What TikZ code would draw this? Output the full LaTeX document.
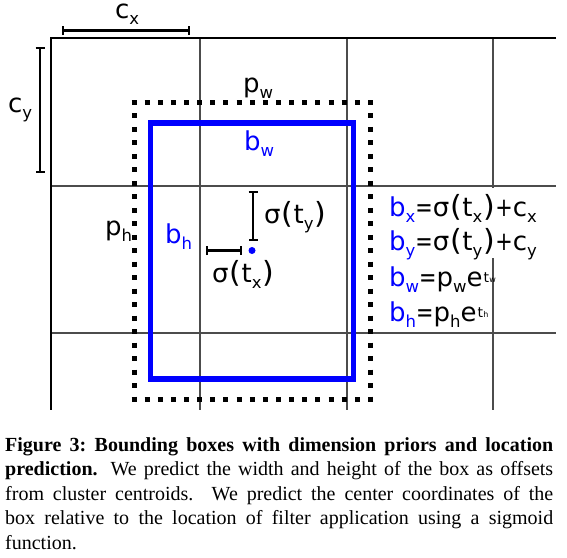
\documentclass[tikz,border=0pt]{standalone}
\usepackage{fontspec}
\usepackage{graphicx}
\setmainfont{Liberation Serif}
\newfontfamily\labfont{DejaVu Sans}
\usetikzlibrary{arrows.meta}
\newcommand\sbs[1]{\raisebox{-6.5pt}{\fontsize{16.5}{16.5}\selectfont #1}}
\newcommand\supt[1]{\kern1pt\raisebox{4pt}{\fontsize{14}{14}\selectfont t\kern0.3pt{\fontsize{8}{8}\selectfont #1}}}
\newcommand\lpar{\kern0.8pt\scalebox{1.15}[1.12]{(}\kern0.6pt}
\newcommand\rpar{\kern0.6pt\scalebox{1.15}[1.12]{)}\kern0.8pt}
\newcommand\eqs{\scalebox{0.8}[1]{=}}
\newcommand\pls{\scalebox{0.8}[1]{+}}
\tikzset{
  gridout/.style={draw=black, line width=1.2pt},
  gridin/.style={draw=black!70, line width=1.4pt},
  lab/.style={font=\labfont\fontsize{26}{26}\selectfont, inner sep=0pt, anchor=base west},
  eqrow/.style={lab, fill=white, inner xsep=0pt},
  brk/.style={line width=2.1pt, {Bar[width=9pt]}-{Bar[width=9pt]}},
  prior/.style={line width=5pt},
  pred/.style={draw=blue, line width=5.5pt},
  captext/.style={font=\fontsize{20}{24}\selectfont, inner sep=0pt, anchor=base west}
}
\begin{document}
\begin{tikzpicture}[x=1pt,y=-1pt]
\useasboundingbox (0,0) rectangle (567,557);
% grid
\draw[gridin] (200,38) -- (200,410);
\draw[gridin] (347,38) -- (347,410);
\draw[gridin] (493,38) -- (493,410);
\draw[gridin] (51,186) -- (556,186);
\draw[gridin] (51,333) -- (556,333);
\draw[gridout] (556,38) -- (51,38) -- (51,410);
% prior box (dotted)
\draw[prior, dash pattern=on 5pt off 8.139pt] (131.5,102.5) -- (373,102.5);
\draw[prior, dash pattern=on 5pt off 8.139pt] (131.5,399) -- (373,399);
\draw[prior, dash pattern=on 5pt off 8.477pt] (134,100) -- (134,401.5);
\draw[prior, dash pattern=on 5pt off 8.477pt] (370.5,100) -- (370.5,401.5);
% predicted box
\draw[pred] (150.5,123) rectangle (353.5,379);
% centre
\coordinate (ctr) at (252,250.5);
\fill[blue] (ctr) circle (3.5);
% brackets
\coordinate (cxa) at (62,30.5); \coordinate (cxb) at (190,30.5);
\coordinate (cya) at (40,47); \coordinate (cyb) at (40,173);
\coordinate (tya) at (253,191); \coordinate (tyb) at (253,241);
\coordinate (txa) at (206,250.5); \coordinate (txb) at (242,250.5);
\draw[brk] (cxa) -- (cxb);
\draw[brk] (cya) -- (cyb);
\draw[brk] (tya) -- (tyb);
\draw[brk] (txa) -- (txb);
% labels
\node[lab, text height=14pt] (lcx) at (115,18) {c\sbs{x}};
\node[lab] (lcy) at (8,112) {c\sbs{y}};
\node[lab] (lpw) at (243,92) {p\sbs{w}};
\node[lab, text=blue] (lbw) at (244,150) {b\sbs{w}};
\node[lab] (lph) at (105,235) {p\sbs{h}};
\node[lab, text=blue] (lbh) at (165,243) {b\sbs{h}};
\node[lab] (lty) at (264,223) {σ\lpar t\sbs{y}\rpar};
\node[lab] (ltx) at (212,282) {σ\lpar t\sbs{x}\rpar};
% equations
\node[eqrow, text height=28pt, text depth=6pt] (e1) at (389,216) {\textcolor{blue}{b\sbs{x}}\eqs σ\lpar t\sbs{x}\rpar\pls c\sbs{x}};
\node[eqrow, text height=28pt, text depth=8pt] (e2) at (389,250) {\textcolor{blue}{b\sbs{y}}\eqs σ\lpar t\sbs{y}\rpar\pls c\sbs{y}};
\node[lab] (e3) at (389,286) {\textcolor{blue}{b\sbs{w}}\eqs p\sbs{w}e\supt{w}};
\node[lab] (e4) at (389,321) {\textcolor{blue}{b\sbs{h}}\eqs p\sbs{h}e\supt{h}};
% caption
\node[captext] (c1) at (5,451) {\makebox[548pt][s]{\bfseries Figure 3:\ Bounding boxes with dimension priors and location}};
\node[captext] (c2) at (5,475.5) {\makebox[548pt][s]{\textbf{prediction.} We predict the width and height of the box as offsets}};
\node[captext] (c3) at (5,500) {\makebox[548pt][s]{from cluster centroids.  We predict the center coordinates of the}};
\node[captext] (c4) at (5,524.5) {\makebox[548pt][s]{box relative to the location of filter application using a sigmoid}};
\node[captext] (c5) at (5,549) {function.};
\end{tikzpicture}
\end{document}
